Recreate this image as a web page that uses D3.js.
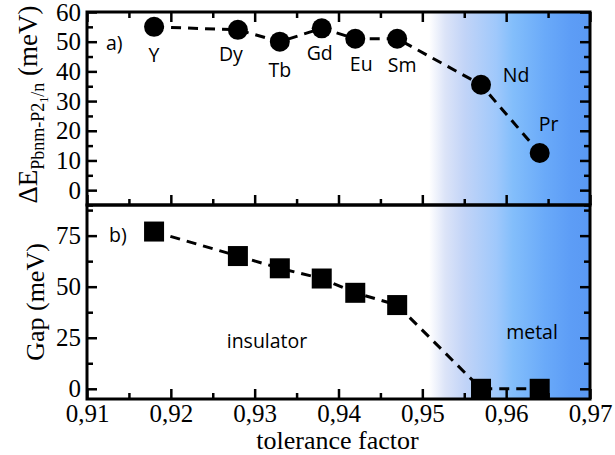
<!DOCTYPE html>
<html>
<head>
<meta charset="utf-8">
<script src="https://cdn.jsdelivr.net/npm/d3@7"></script>
<style>
  body { margin: 0; background: #fff; }
  svg { display: block; }
  .tick text { font-family: "Liberation Serif", "DejaVu Serif", serif; font-size: 25px; fill: #000; }
  .tick line { stroke: #000; stroke-width: 2.5; }
  .lbl { font-family: "Open Sans", "Liberation Sans", sans-serif; font-size: 19.5px; fill: #000; }
  .title { font-family: "Liberation Serif", serif; fill: #000; }
</style>
</head>
<body>
<div id="chart"></div>
<script>
// compounds, tolerance factor and the two measured quantities
const elements = ["Y", "Dy", "Tb", "Gd", "Eu", "Sm", "Nd", "Pr"];
const tolerance = [0.918, 0.928, 0.933, 0.938, 0.942, 0.947, 0.957, 0.964];
const deltaE = [55, 54, 50, 54.5, 51, 51, 35.5, 12.5];
const gap = [77, 65, 59, 54, 47, 41, 0, 0];

const xTicks = [0.91, 0.92, 0.93, 0.94, 0.95, 0.96, 0.97];
const aTicks = [0, 10, 20, 30, 40, 50, 60];
const bTicks = [0, 25, 50, 75];

// where the element names sit relative to their marker (px)
const labelOffset = {
    Y: [0, 35], Dy: [-7, 31], Tb: [0, 35], Gd: [-2, 32],
    Eu: [6, 32], Sm: [5, 33], Nd: [35, -3], Pr: [9, -22]
};

const WIDTH = 615;
const HEIGHT = 455;
const left = 87, right = 590;
const topA = 12, midY = 205, botB = 399;

const svg = d3.select("#chart").append("svg")
    .attr("width", WIDTH)
    .attr("height", HEIGHT);

const x = d3.scaleLinear().domain([0.91, 0.97]).range([left, right]);
const ya = d3.scaleLinear().domain([-5, 60]).range([midY, topA]);
const yb = d3.scaleLinear().domain([-5, 90]).range([botB, midY]);

const comma = v => d3.format(".2f")(v).replace(".", ",");

// metal region shading
const grad = svg.append("defs").append("linearGradient")
    .attr("id", "metalGrad")
    .attr("x1", "0").attr("x2", "1").attr("y1", "0").attr("y2", "0");
[
    [0, "#ffffff"], [0.1, "#dce4f8"], [0.22, "#c2d4f7"], [0.42, "#9fc8fb"],
    [0.52, "#83befb"], [0.72, "#6aaaf9"], [0.88, "#5d9df6"], [1, "#5a99f3"]
].forEach(s => grad.append("stop").attr("offset", s[0]).attr("stop-color", s[1]));

svg.append("rect")
    .attr("x", x(0.9508)).attr("y", topA)
    .attr("width", x(0.97) - x(0.9508)).attr("height", botB - topA)
    .attr("fill", "url(#metalGrad)");

const xMinor = d3.range(0.915, 0.97, 0.01);
const aMinor = d3.range(-5, 60, 10);
const bMinor = d3.range(12.5, 90, 25);

function tickAxis(g, axis) {
    g.call(axis);
    g.select(".domain").remove();
}

// panel a axes
svg.append("g").attr("transform", `translate(${left},0)`)
    .call(g => tickAxis(g, d3.axisLeft(ya).tickValues(aTicks).tickSize(-10).tickPadding(6)));
svg.append("g").attr("transform", `translate(${left},0)`)
    .call(g => tickAxis(g, d3.axisLeft(ya).tickValues(aMinor).tickSize(-6).tickFormat("")));
svg.append("g").attr("transform", `translate(${right},0)`)
    .call(g => tickAxis(g, d3.axisRight(ya).tickValues(aTicks).tickSize(-10).tickFormat("")));
svg.append("g").attr("transform", `translate(${right},0)`)
    .call(g => tickAxis(g, d3.axisRight(ya).tickValues(aMinor).tickSize(-6).tickFormat("")));
[topA, midY].forEach((yy, i) => {
    const dir = i === 0 ? d3.axisTop : d3.axisBottom;
    svg.append("g").attr("transform", `translate(0,${yy})`)
        .call(g => tickAxis(g, dir(x).tickValues(xTicks).tickSize(-10).tickFormat("")));
    svg.append("g").attr("transform", `translate(0,${yy})`)
        .call(g => tickAxis(g, dir(x).tickValues(xMinor).tickSize(-6).tickFormat("")));
});

// panel b axes
svg.append("g").attr("transform", `translate(${left},0)`)
    .call(g => tickAxis(g, d3.axisLeft(yb).tickValues(bTicks).tickSize(-10).tickPadding(6)));
svg.append("g").attr("transform", `translate(${left},0)`)
    .call(g => tickAxis(g, d3.axisLeft(yb).tickValues(bMinor).tickSize(-6).tickFormat("")));
svg.append("g").attr("transform", `translate(${right},0)`)
    .call(g => tickAxis(g, d3.axisRight(yb).tickValues(bTicks).tickSize(-10).tickFormat("")));
svg.append("g").attr("transform", `translate(${right},0)`)
    .call(g => tickAxis(g, d3.axisRight(yb).tickValues(bMinor).tickSize(-6).tickFormat("")));
svg.append("g").attr("transform", `translate(0,${botB})`)
    .call(g => tickAxis(g, d3.axisBottom(x).tickValues(xTicks).tickSize(-10).tickPadding(5).tickFormat(comma)));
svg.append("g").attr("transform", `translate(0,${botB})`)
    .call(g => tickAxis(g, d3.axisBottom(x).tickValues(xMinor).tickSize(-6).tickFormat("")));

// frames
[[topA, midY], [midY, botB]].forEach(([y0, y1]) => {
    svg.append("rect")
        .attr("x", left).attr("y", y0)
        .attr("width", right - left).attr("height", y1 - y0)
        .attr("fill", "none").attr("stroke", "#000").attr("stroke-width", 3);
});

const rows = elements.map((el, i) => ({ el, t: tolerance[i], e: deltaE[i], g: gap[i] }));

// panel a: energy difference
svg.append("path")
    .datum(rows)
    .attr("fill", "none").attr("stroke", "#000").attr("stroke-width", 3)
    .attr("stroke-dasharray", "10,7")
    .attr("d", d3.line().x(d => x(d.t)).y(d => ya(d.e)));
svg.selectAll(".dotA").data(rows).enter().append("circle")
    .attr("class", "dotA")
    .attr("cx", d => x(d.t)).attr("cy", d => ya(d.e)).attr("r", 10)
    .attr("fill", "#000");
svg.selectAll(".elLabel").data(rows).enter().append("text")
    .attr("class", "lbl elLabel")
    .attr("text-anchor", "middle")
    .attr("x", d => x(d.t) + labelOffset[d.el][0])
    .attr("y", d => ya(d.e) + labelOffset[d.el][1])
    .text(d => d.el);

// panel b: gap
svg.append("path")
    .datum(rows)
    .attr("fill", "none").attr("stroke", "#000").attr("stroke-width", 3)
    .attr("stroke-dasharray", "10,7")
    .attr("d", d3.line().x(d => x(d.t)).y(d => yb(d.g)));
svg.selectAll(".sqB").data(rows).enter().append("rect")
    .attr("class", "sqB")
    .attr("x", d => x(d.t) - 10).attr("y", d => yb(d.g) - 10)
    .attr("width", 20).attr("height", 20)
    .attr("fill", "#000");

// panel tags and region names
svg.append("text").attr("class", "lbl").attr("x", 106).attr("y", 50).text("a)");
svg.append("text").attr("class", "lbl").attr("x", 109).attr("y", 242).text("b)");
svg.append("text").attr("class", "lbl").attr("text-anchor", "middle")
    .attr("x", 267).attr("y", 348).text("insulator");
svg.append("text").attr("class", "lbl").attr("text-anchor", "middle")
    .attr("x", 532).attr("y", 339).text("metal");

// axis titles
svg.append("text").attr("class", "title")
    .attr("text-anchor", "middle").attr("font-size", 26)
    .attr("x", (left + right) / 2 - 1).attr("y", 449)
    .text("tolerance factor");

svg.append("text").attr("class", "title")
    .attr("text-anchor", "middle").attr("font-size", 26)
    .attr("transform", `translate(44,${(midY + botB) / 2}) rotate(-90)`)
    .text("Gap (meV)");

const yt = svg.append("text").attr("class", "title")
    .attr("text-anchor", "middle").attr("font-size", 27)
    .attr("transform", `translate(37,${(topA + midY) / 2 - 4}) rotate(-90)`);
yt.append("tspan").text("ΔE");
yt.append("tspan").attr("font-size", 18).attr("dy", 7).text("Pbnm-P2");
yt.append("tspan").attr("font-size", 12).attr("dy", 4).text("1");
yt.append("tspan").attr("font-size", 18).attr("dy", -4).text("/n");
yt.append("tspan").attr("dy", -7).text(" (meV)");
</script>
</body>
</html>
